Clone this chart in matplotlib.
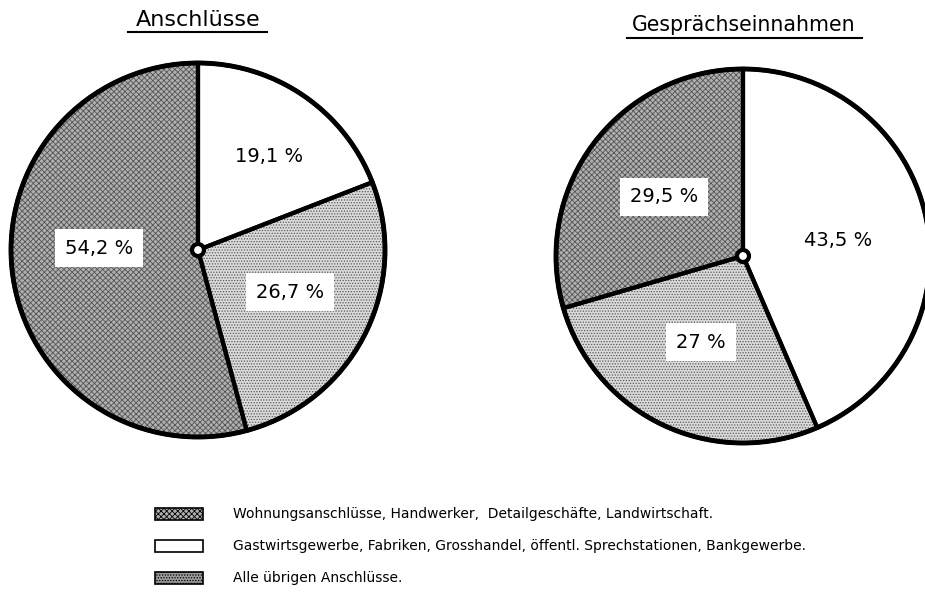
import matplotlib.pyplot as plt
from matplotlib.patches import Rectangle, Circle

plt.rcParams['font.family'] = ['DejaVu Sans']
plt.rcParams['hatch.linewidth'] = 0.6

# Daten
kategorien = ['Wohnungsanschlüsse, Handwerker,  Detailgeschäfte, Landwirtschaft.',
              'Gastwirtsgewerbe, Fabriken, Grosshandel, öffentl. Sprechstationen, Bankgewerbe.',
              'Alle übrigen Anschlüsse.']
anschluesse = [54.2, 19.1, 26.7]
gespraeche = [29.5, 43.5, 27.0]
label_anschl = ['54,2 %', '19,1 %', '26,7 %']
label_gespr = ['29,5 %', '43,5 %', '27 %']

farben = ['#b0b0b0', 'white', '#dadada']
muster = ['xxxxxx', '', '......']
musterfarbe = ['#555555', 'white', '#5a5a5a']

W, H = 925, 592
fig = plt.figure(figsize=(W / 100, H / 100), dpi=100)
ax = fig.add_axes([0, 0, 1, 1])


def kreis(werte, labels, cx, cy, r, label_pos):
    # im Uhrzeigersinn ab 12 Uhr: weiss, gepunktet, kariert
    order = [1, 2, 0]
    w = [werte[i] for i in order]
    wedges, _ = ax.pie(w, center=(cx, cy), radius=r, startangle=90,
                       counterclock=False, colors=[farben[i] for i in order],
                       hatch=[muster[i] for i in order],
                       wedgeprops=dict(linewidth=0))
    for wd, i in zip(wedges, order):
        wd.set_edgecolor(musterfarbe[i])
    # Umrisse
    ax.pie(w, center=(cx, cy), radius=r, startangle=90, counterclock=False,
           colors=['none'] * 3,
           wedgeprops=dict(linewidth=3, edgecolor='black', fill=False))
    ax.add_patch(Circle((cx, cy), r, fill=False, lw=3.5, ec='black'))
    ax.add_patch(Circle((cx, cy), 6, fc='white', ec='black', lw=3, zorder=5))
    for lab, (px, py) in zip(labels, label_pos):
        ax.text(px, H - py, lab, ha='center', va='center', fontsize=14,
                bbox=dict(fc='white', ec='none', pad=7), zorder=6)


kreis(anschluesse, label_anschl, 198, H - 250, 187,
      [(99, 248), (269, 157), (290, 292)])
kreis(gespraeche, label_gespr, 743, H - 256, 187,
      [(664, 197), (838, 240), (701, 342)])
ax.set_xlim(0, W)
ax.set_ylim(0, H)
ax.set_aspect('equal')
ax.axis('off')

# Titel
ax.text(198, H - 20, 'Anschlüsse', ha='center', va='center', fontsize=16)
ax.plot([128, 267], [H - 32, H - 32], color='black', lw=1.5)
ax.text(744, H - 25, 'Gesprächseinnahmen', ha='center', va='center', fontsize=14.8)
ax.plot([627, 862], [H - 38, H - 38], color='black', lw=1.5)

# Legende
leg_y = [514, 546, 578]
leg_face = ['#b0b0b0', 'white', '#999999']
leg_hatch = ['xxxxxx', '', '......']
for k, text in enumerate(kategorien):
    y = H - leg_y[k]
    rect = Rectangle((155, y - 6), 48, 12, fc=leg_face[k], hatch=leg_hatch[k],
                     ec='black', lw=1.2)
    ax.add_patch(rect)
    ax.text(233, y, text, ha='left', va='center', fontsize=10)

fig.savefig('out.png', dpi=100, facecolor='white')
